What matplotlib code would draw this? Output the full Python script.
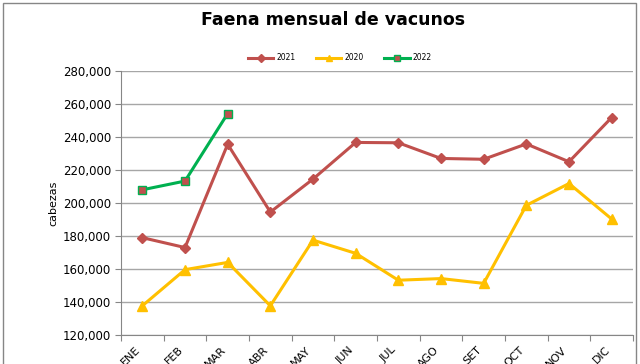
import matplotlib
matplotlib.use("Agg")
import matplotlib.pyplot as plt
from matplotlib.patches import Rectangle
from matplotlib.ticker import FuncFormatter

# Data
months = ['ENE', 'FEB', 'MAR', 'ABR', 'MAY', 'JUN', 'JUL', 'AGO', 'SET', 'OCT', 'NOV', 'DIC']
faena_2021 = [179000, 173000, 235600, 194500, 214500, 236700, 236500, 227000, 226500, 235800, 225000, 251800]
faena_2020 = [137700, 159600, 164000, 137700, 177500, 169500, 153200, 154200, 151300, 198600, 211800, 190300]
faena_2022 = [208000, 213300, 254200]

red = '#C0504D'
gold = '#FFC000'
green = '#00B050'
grid_gray = '#A6A6A6'

fig = plt.figure(figsize=(6.4, 3.64), dpi=100)
ax = fig.add_axes([121 / 640, 1 - 335 / 364, 512 / 640, 264 / 364])

x = list(range(len(months)))
ax.plot(x, faena_2021, color=red, linewidth=2.2, marker='D', markersize=5.5,
        markerfacecolor=red, markeredgecolor=red, label='2021', zorder=3)
ax.plot(x, faena_2020, color=gold, linewidth=2.2, marker='^', markersize=7,
        markerfacecolor=gold, markeredgecolor=gold, label='2020', zorder=3)
ax.plot(x[:len(faena_2022)], faena_2022, color=green, linewidth=2.2, marker='s', markersize=6,
        markerfacecolor=red, markeredgecolor=green, markeredgewidth=1, label='2022', zorder=4)

ax.set_xlim(-0.5, 11.5)
ax.set_ylim(120000, 280000)
ax.set_yticks(range(120000, 280001, 20000))
ax.yaxis.set_major_formatter(FuncFormatter(lambda v, p: f'{int(v):,}'))
ax.grid(axis='y', color=grid_gray, linewidth=1)
ax.set_axisbelow(True)

# category ticks between months, labels centred on months
ax.set_xticks([i + 0.5 for i in range(-1, 12)], minor=False)
ax.set_xticklabels([])
ax.set_xticks(x, minor=True)
ax.set_xticklabels(months, minor=True, rotation=45, ha='right', fontsize=8)
ax.tick_params(axis='x', which='minor', length=0, pad=7)
ax.tick_params(axis='x', which='major', length=4, color='#868686', direction='out')
ax.tick_params(axis='y', length=4, color='#868686', labelsize=8.5, pad=3)

for side in ['top', 'right']:
    ax.spines[side].set_visible(False)
for side in ['left', 'bottom']:
    ax.spines[side].set_color('#868686')

ax.set_ylabel('cabezas', fontsize=8, labelpad=3)

fig.suptitle('Faena mensual de vacunos', x=0.52, y=0.97, fontsize=12.5, fontweight='bold')
fig.legend(loc='center', bbox_to_anchor=(340 / 640, 1 - 58 / 364), ncol=3, frameon=False,
           fontsize=5.5, handlelength=3.3, handletextpad=0.4, columnspacing=2.7,
           markerscale=0.7)

# outer chart frame
fig.patches.append(Rectangle((0.004, -0.05), 0.99, 1.043, transform=fig.transFigure,
                             fill=False, edgecolor='#868686', linewidth=1))

fig.savefig('out.png', dpi=100)
